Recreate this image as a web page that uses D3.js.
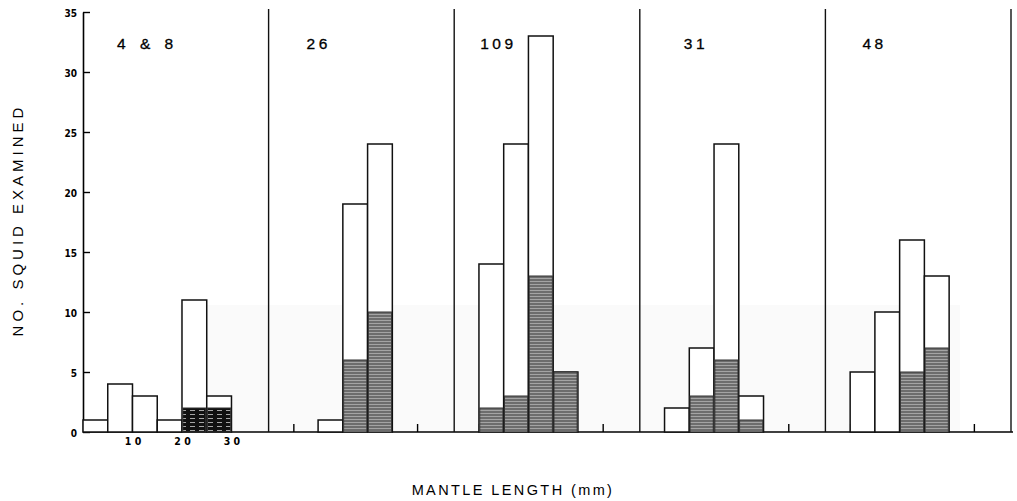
<!DOCTYPE html>
<html>
<head>
<meta charset="utf-8">
<script src="https://cdn.jsdelivr.net/npm/d3@7"></script>
<style>
  body { margin: 0; background: #fff; }
  svg { display: block; }
</style>
</head>
<body>
<script>
'use strict';

// station labels, one panel each
const panels = ["4 & 8", "26", "109", "31", "48"];
// mantle length bin starts (mm), bins are 5 mm wide
const binStarts = [0, 5, 10, 15, 20, 25];
// number of squid examined per bin
const examined = [
  [1, 4, 3, 1, 11, 3],
  [0, 0, 1, 19, 24, 0],
  [0, 14, 24, 33, 5, 0],
  [0, 2, 7, 24, 3, 0],
  [0, 5, 10, 16, 13, 0]
];
// shaded part of each bar
const shaded = [
  [0, 0, 0, 0, 2, 2],
  [0, 0, 0, 6, 10, 0],
  [0, 2, 3, 13, 5, 0],
  [0, 0, 3, 6, 1, 0],
  [0, 0, 0, 5, 7, 0]
];
const yTicks = [0, 5, 10, 15, 20, 25, 30, 35];
const firstPanelTicks = [10, 20, 30];
const otherPanelTicks = [5, 30];

let svgContainer = d3.select('body')
  .append('svg')
  .attr('width', 1017)
  .attr('height', 501);

const left = 83, panelW = 185.6, baseY = 432, topY = 12;
// where each station label starts inside its panel (px)
const labelOffset = [34, 38, 26, 44, 37];

// hatch patterns for the shaded part of the bars
let defs = svgContainer.append('defs');
let hatch = defs.append('pattern')
  .attr('id', 'hatch')
  .attr('patternUnits', 'userSpaceOnUse')
  .attr('width', 6).attr('height', 3);
hatch.append('rect').attr('width', 6).attr('height', 3).attr('fill', '#6d6d6d');
hatch.append('rect').attr('y', 2).attr('width', 6).attr('height', 1).attr('fill', '#a4a4a4');

let hatchDark = defs.append('pattern')
  .attr('id', 'hatchDark')
  .attr('patternUnits', 'userSpaceOnUse')
  .attr('width', 9).attr('height', 4);
hatchDark.append('rect').attr('width', 9).attr('height', 4).attr('fill', '#111');
hatchDark.append('rect').attr('x', 1).attr('y', 2).attr('width', 5).attr('height', 0.8).attr('fill', '#ccc');

// faint scan shading behind the lower part
svgContainer.append('rect')
  .attr('x', 180).attr('y', 305)
  .attr('width', 780).attr('height', baseY - 305)
  .attr('fill', '#fafafa');

let yScale = d3.scaleLinear().domain([0, 35]).range([baseY, topY]);

// y axis, ticks point inwards
let yAxis = d3.axisLeft(yScale)
  .tickValues(yTicks)
  .tickSizeInner(-7)
  .tickSizeOuter(0)
  .tickPadding(6);
let yg = svgContainer.append('g')
  .attr('transform', `translate(${left}, 0)`)
  .call(yAxis);
yg.select('.domain').attr('stroke-width', 1.6);
yg.selectAll('.tick line').attr('stroke-width', 1.4);
yg.selectAll('.tick text')
  .style('font-family', '"DejaVu Sans Condensed", "DejaVu Sans"')
  .style('font-weight', 'bold')
  .style('font-size', '10px')
  .attr('dy', '0.45em');

// baseline across all panels
svgContainer.append('line')
  .attr('x1', left).attr('x2', left + panelW * 5 + 2)
  .attr('y1', baseY).attr('y2', baseY)
  .attr('stroke', '#000').attr('stroke-width', 1.4);

panels.forEach(function(name, p) {
  let x0 = left + p * panelW;
  let xScale = d3.scaleLinear().domain([0, 37.5]).range([x0, x0 + panelW]);
  let g = svgContainer.append('g');

  // small ticks on the length axis
  let xAxis = d3.axisBottom(xScale)
    .tickValues(p === 0 ? firstPanelTicks : otherPanelTicks)
    .tickSizeInner(p === 0 ? 0 : -8)
    .tickSizeOuter(0)
    .tickPadding(p === 0 ? 6 : 0)
    .tickFormat(p === 0 ? d => d3.format('d')(d).split('').join(' ') : '');
  let xg = g.append('g')
    .attr('transform', `translate(0, ${baseY})`)
    .call(xAxis);
  xg.select('.domain').remove();
  xg.selectAll('.tick line').attr('stroke-width', 1.4);
  xg.selectAll('.tick text')
    .style('font-family', '"DejaVu Sans Condensed", "DejaVu Sans"')
    .style('font-weight', 'bold')
    .style('font-size', '10.5px');

  let rows = binStarts.map((b, i) => ({ b: b, n: examined[p][i], s: shaded[p][i] }))
    .filter(d => d.n > 0);

  // open bars: all squid examined
  g.selectAll('.bar')
    .data(rows)
    .enter()
    .append('rect')
      .attr('x', d => xScale(d.b))
      .attr('y', d => yScale(d.n))
      .attr('width', d => xScale(d.b + 5) - xScale(d.b))
      .attr('height', d => baseY - yScale(d.n))
      .attr('fill', '#fff')
      .attr('stroke', '#111')
      .attr('stroke-width', 1.5);

  // shaded part
  g.selectAll('.shade')
    .data(rows.filter(d => d.s > 0))
    .enter()
    .append('rect')
      .attr('x', d => xScale(d.b) + 0.8)
      .attr('y', d => yScale(d.s))
      .attr('width', d => xScale(d.b + 5) - xScale(d.b) - 1.6)
      .attr('height', d => baseY - yScale(d.s))
      .attr('fill', p === 0 ? 'url(#hatchDark)' : 'url(#hatch)')
      .attr('stroke', '#333')
      .attr('stroke-width', 1);

  // panel divider on the right
  g.append('line')
    .attr('x1', x0 + panelW).attr('x2', x0 + panelW)
    .attr('y1', 9).attr('y2', baseY)
    .attr('stroke', '#111').attr('stroke-width', 1.4);

  // station label
  g.append('text')
    .attr('x', x0 + labelOffset[p])
    .attr('y', 49)
    .style('font-family', '"Liberation Sans", Arial, sans-serif')
    .style('font-size', '15.5px')
    .style('stroke', '#000').style('stroke-width', 0.3)
    .style('letter-spacing', p === 0 ? '5px' : '3.5px')
    .text(name);
});

// axis titles
svgContainer.append('text')
  .attr('transform', 'translate(23, 220)rotate(-90)')
  .attr('text-anchor', 'middle')
  .style('font-family', '"Liberation Sans", Arial, sans-serif')
  .style('font-size', '15px')
  .style('letter-spacing', '4px')
  .text('NO. SQUID EXAMINED');

svgContainer.append('text')
  .attr('x', 513)
  .attr('y', 495)
  .attr('text-anchor', 'middle')
  .style('font-family', '"Liberation Sans", Arial, sans-serif')
  .style('font-size', '14.5px')
  .style('letter-spacing', '2.4px')
  .text('MANTLE LENGTH (mm)');
</script>
</body>
</html>
